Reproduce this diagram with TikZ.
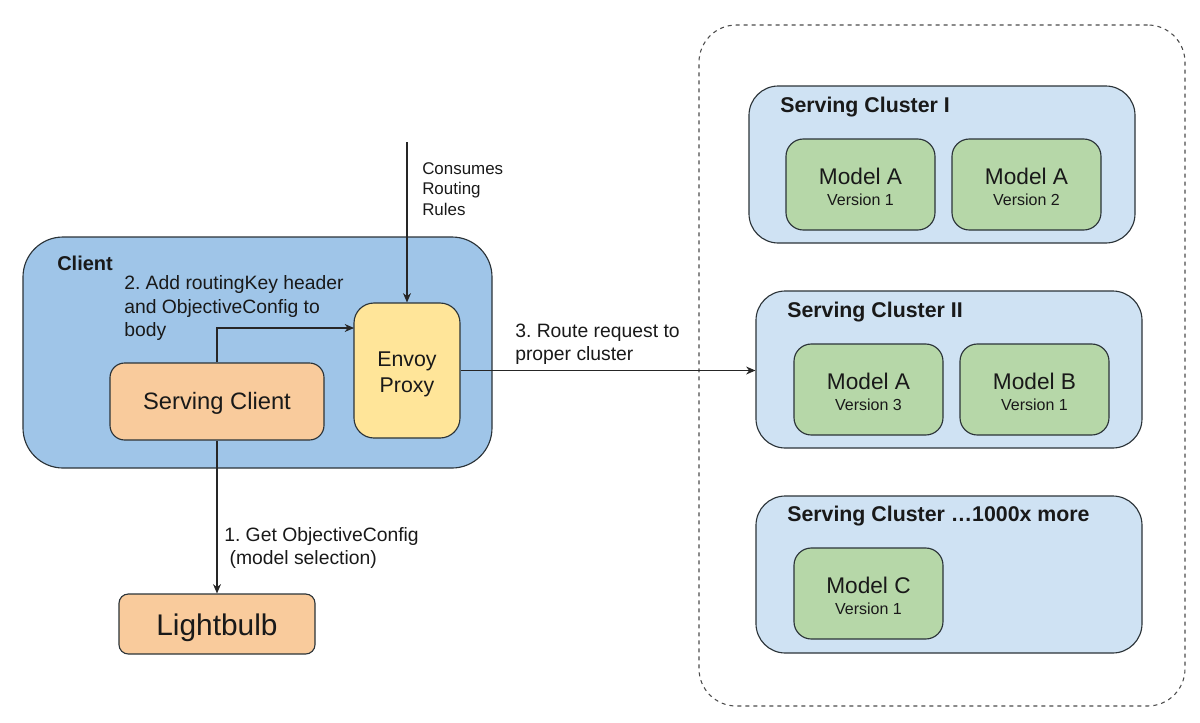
\documentclass[tikz,border=0pt]{standalone}
\usepackage{fontspec}
\setmainfont{Liberation Sans}
\usepackage{xcolor}
\usetikzlibrary{positioning}
\usetikzlibrary{arrows.meta}
\definecolor{clientblue}{HTML}{9FC5E8}
\definecolor{clusterblue}{HTML}{CFE2F3}
\definecolor{modelgreen}{HTML}{B6D7A8}
\definecolor{clientorange}{HTML}{F9CB9C}
\definecolor{proxyyellow}{HTML}{FFE599}
\definecolor{edgegray}{HTML}{2B3338}
\newcommand{\fs}[1]{\fontsize{#1}{#1}\selectfont}
\frenchspacing
\tikzset{
  box/.style={draw=edgegray, line width=0.85pt, inner sep=0pt, align=center, text=black!90},
  clusterbox/.style={box, fill=clusterblue, rounded corners=22pt, minimum width=289.5pt, minimum height=117.75pt},
  modelbox/.style={box, fill=modelgreen, rounded corners=13pt, minimum width=111.75pt, minimum height=68.25pt},
  txt/.style={inner sep=0pt, anchor=west, align=left, text=black!90},
  title/.style={txt, font=\bfseries\fs{16}},
  steptxt/.style={txt, font=\fontsize{14.5}{17.5}\selectfont},
  flow/.style={-{Stealth[length=7pt,width=6pt]}, draw=black!85, line width=0.85pt},
}
\begin{document}
\begin{tikzpicture}[x=0.75pt, y=-0.75pt]
  \useasboundingbox (0,0) rectangle (1200,722);

  % Dashed frame around the clusters
  \node[draw=black!70, line width=0.8pt, dashed, rounded corners=28pt, inner sep=0pt,
        minimum width=364.5pt, minimum height=510.75pt] (frame) at (942,365.5) {};

  % Serving clusters
  \node[clusterbox] (clusterA) at (942,164.5) {};
  \node[clusterbox] (clusterB) at (949,369.5) {};
  \node[clusterbox] (clusterC) at (949,574.5) {};
  \node[title] (titleA) at (780,107) {Serving Cluster I};
  \node[title] (titleB) at (787,312) {Serving Cluster II};
  \node[title] (titleC) at (787,516) {Serving Cluster …1000x more};

  % Models inside the clusters
  \foreach \name/\x/\y/\mdl/\ver in {
    modelA/860.5/184.5/A/1, modelB/1026.5/184.5/A/2,
    modelC/868.5/389.5/A/3, modelD/1034.5/389.5/B/1,
    modelE/868.5/593.5/C/1} {
    \node[modelbox] (\name) at (\x,\y) {\fs{17}\rule{0pt}{16pt}Model \mdl\\[3.25pt]\fs{12}Version \ver};
  }

  % Client box
  \node[box, fill=clientblue, rounded corners=30pt, minimum width=351.75pt, minimum height=173.25pt] (client) at (257.5,352.5) {};
  \node[title, font=\bfseries\fs{15}] (clienttitle) at (57,263) {Client};
  \node[box, fill=clientorange, rounded corners=11pt, minimum width=160.5pt, minimum height=57.75pt,
        font=\fs{17.8}] (serving) at (217,401.5) {\rule{0pt}{15.7pt}Serving Client};
  \node[box, fill=proxyyellow, rounded corners=15pt, minimum width=79.5pt, minimum height=101.25pt,
        font=\fontsize{16}{19.5}\selectfont] (envoy) at (407,370.5) {\rule{0pt}{16.7pt}Envoy\\Proxy};
  \node[box, fill=clientorange, rounded corners=7pt, minimum width=147pt, minimum height=45pt,
        font=\fs{22.4}] (lightbulb) at (217,624) {\rule{0pt}{22.3pt}Lightbulb};

  % Free ends
  \coordinate (rules) at (407,142);
  \coordinate (envoyin) at (354,328);

  % Connectors
  \draw[flow] (rules) -- (envoy.north);
  \draw[flow] (serving.north) |- (envoyin);
  \draw[flow] (envoy.east) -- (clusterB.west |- envoy.east);
  \draw[flow] (serving.south) -- (lightbulb.north);

  % Labels
  \node[txt, font=\fontsize{12.7}{15.6}\selectfont] (consumes) at (422,189) {Consumes\\Routing\\Rules};
  \node[steptxt] (steptwo) at (124,308) {2. Add routingKey header\\and ObjectiveConfig to\\body};
  \node[steptxt] (stepthree) at (515,344) {3. Route request to\\proper cluster};
  \node[steptxt] (stepone) at (224,548) {1. Get ObjectiveConfig\\\ (model selection)};
\end{tikzpicture}
\end{document}
